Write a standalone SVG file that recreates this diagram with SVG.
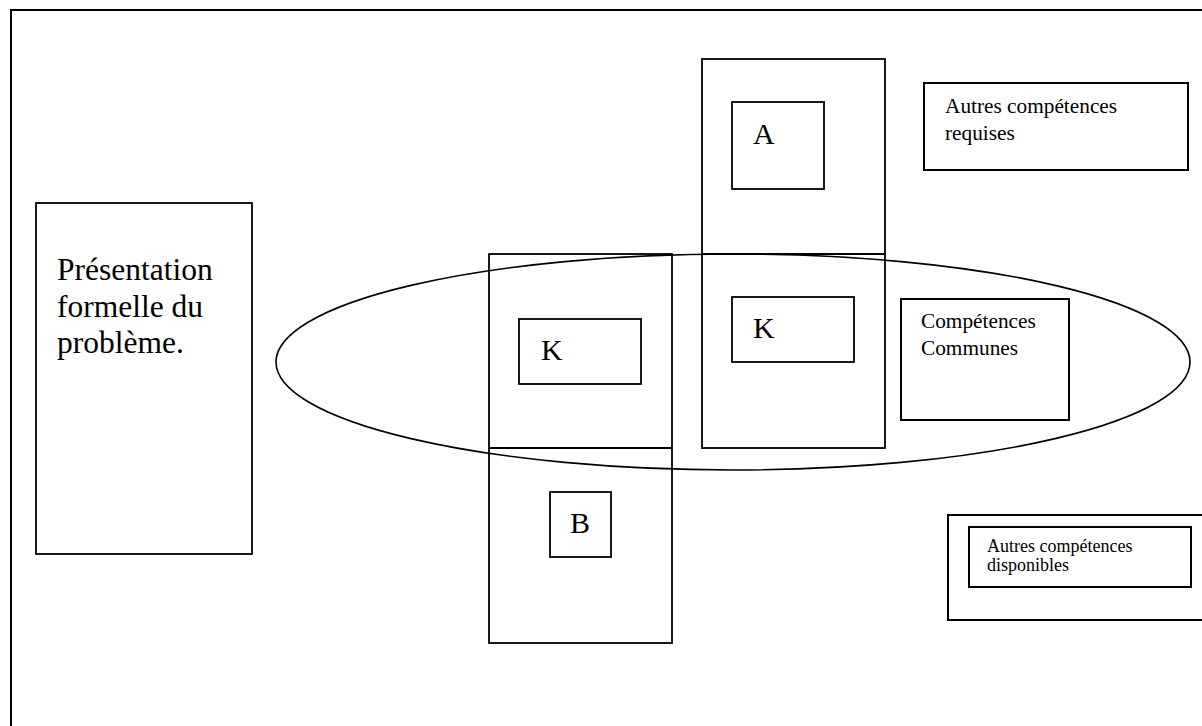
<svg xmlns="http://www.w3.org/2000/svg" width="1202" height="726" viewBox="0 0 1202 726">
<style>
.b{fill:none;stroke:#000;stroke-width:1.8}
.e{fill:none;stroke:#000;stroke-width:1.6}
.f{fill:none;stroke:#000;stroke-width:2}
text{font-family:"Liberation Serif","Times New Roman",serif;fill:#000}
.big{font-size:31.5px}
.let{font-size:30px}
.mid{font-size:21.3px}
.sm{font-size:18px}
</style>
<rect width="1202" height="726" fill="#fff"/>
<g id="frame"><rect class="f" x="11" y="10" width="1200" height="730"/></g>
<g id="presentation">
<rect class="b" x="36" y="203" width="216" height="351"/>
<text class="big" x="57" y="280">Présentation</text>
<text class="big" x="57" y="317">formelle du</text>
<text class="big" x="57" y="353">problème.</text>
</g>
<g id="ellipse"><ellipse class="e" cx="733" cy="362" rx="457" ry="108"/></g>
<g id="colA-top"><rect class="b" x="702" y="59" width="183" height="195"/></g>
<g id="colA-bottom"><rect class="b" x="702" y="254" width="183" height="194"/></g>
<g id="colB-top"><rect class="b" x="489" y="254" width="183" height="194"/></g>
<g id="colB-bottom"><rect class="b" x="489" y="448" width="183" height="195"/></g>
<g id="A"><rect class="b" x="732" y="102" width="92" height="87"/><text class="let" x="753" y="144">A</text></g>
<g id="K-right"><rect class="b" x="732" y="297" width="122" height="65"/><text class="let" x="753" y="338">K</text></g>
<g id="K-left"><rect class="b" x="519" y="319" width="122" height="65"/><text class="let" x="541" y="360">K</text></g>
<g id="B"><rect class="b" x="550" y="492" width="61" height="65"/><text class="let" x="570" y="533">B</text></g>
<g id="requises">
<rect class="f" x="924" y="83" width="264" height="87"/>
<text class="mid" x="945" y="113">Autres compétences</text>
<text class="mid" x="945" y="140">requises</text>
</g>
<g id="communes">
<rect class="f" x="901" y="299" width="168" height="121"/>
<text class="mid" x="921" y="328">Compétences</text>
<text class="mid" x="921" y="355">Communes</text>
</g>
<g id="disponibles">
<rect class="f" x="948" y="515" width="270" height="105"/>
<rect class="f" x="969" y="527" width="222" height="60"/>
<text class="sm" x="987" y="552">Autres compétences</text>
<text class="sm" x="987" y="571">disponibles</text>
</g>
<g id="connectors"/>
</svg>
